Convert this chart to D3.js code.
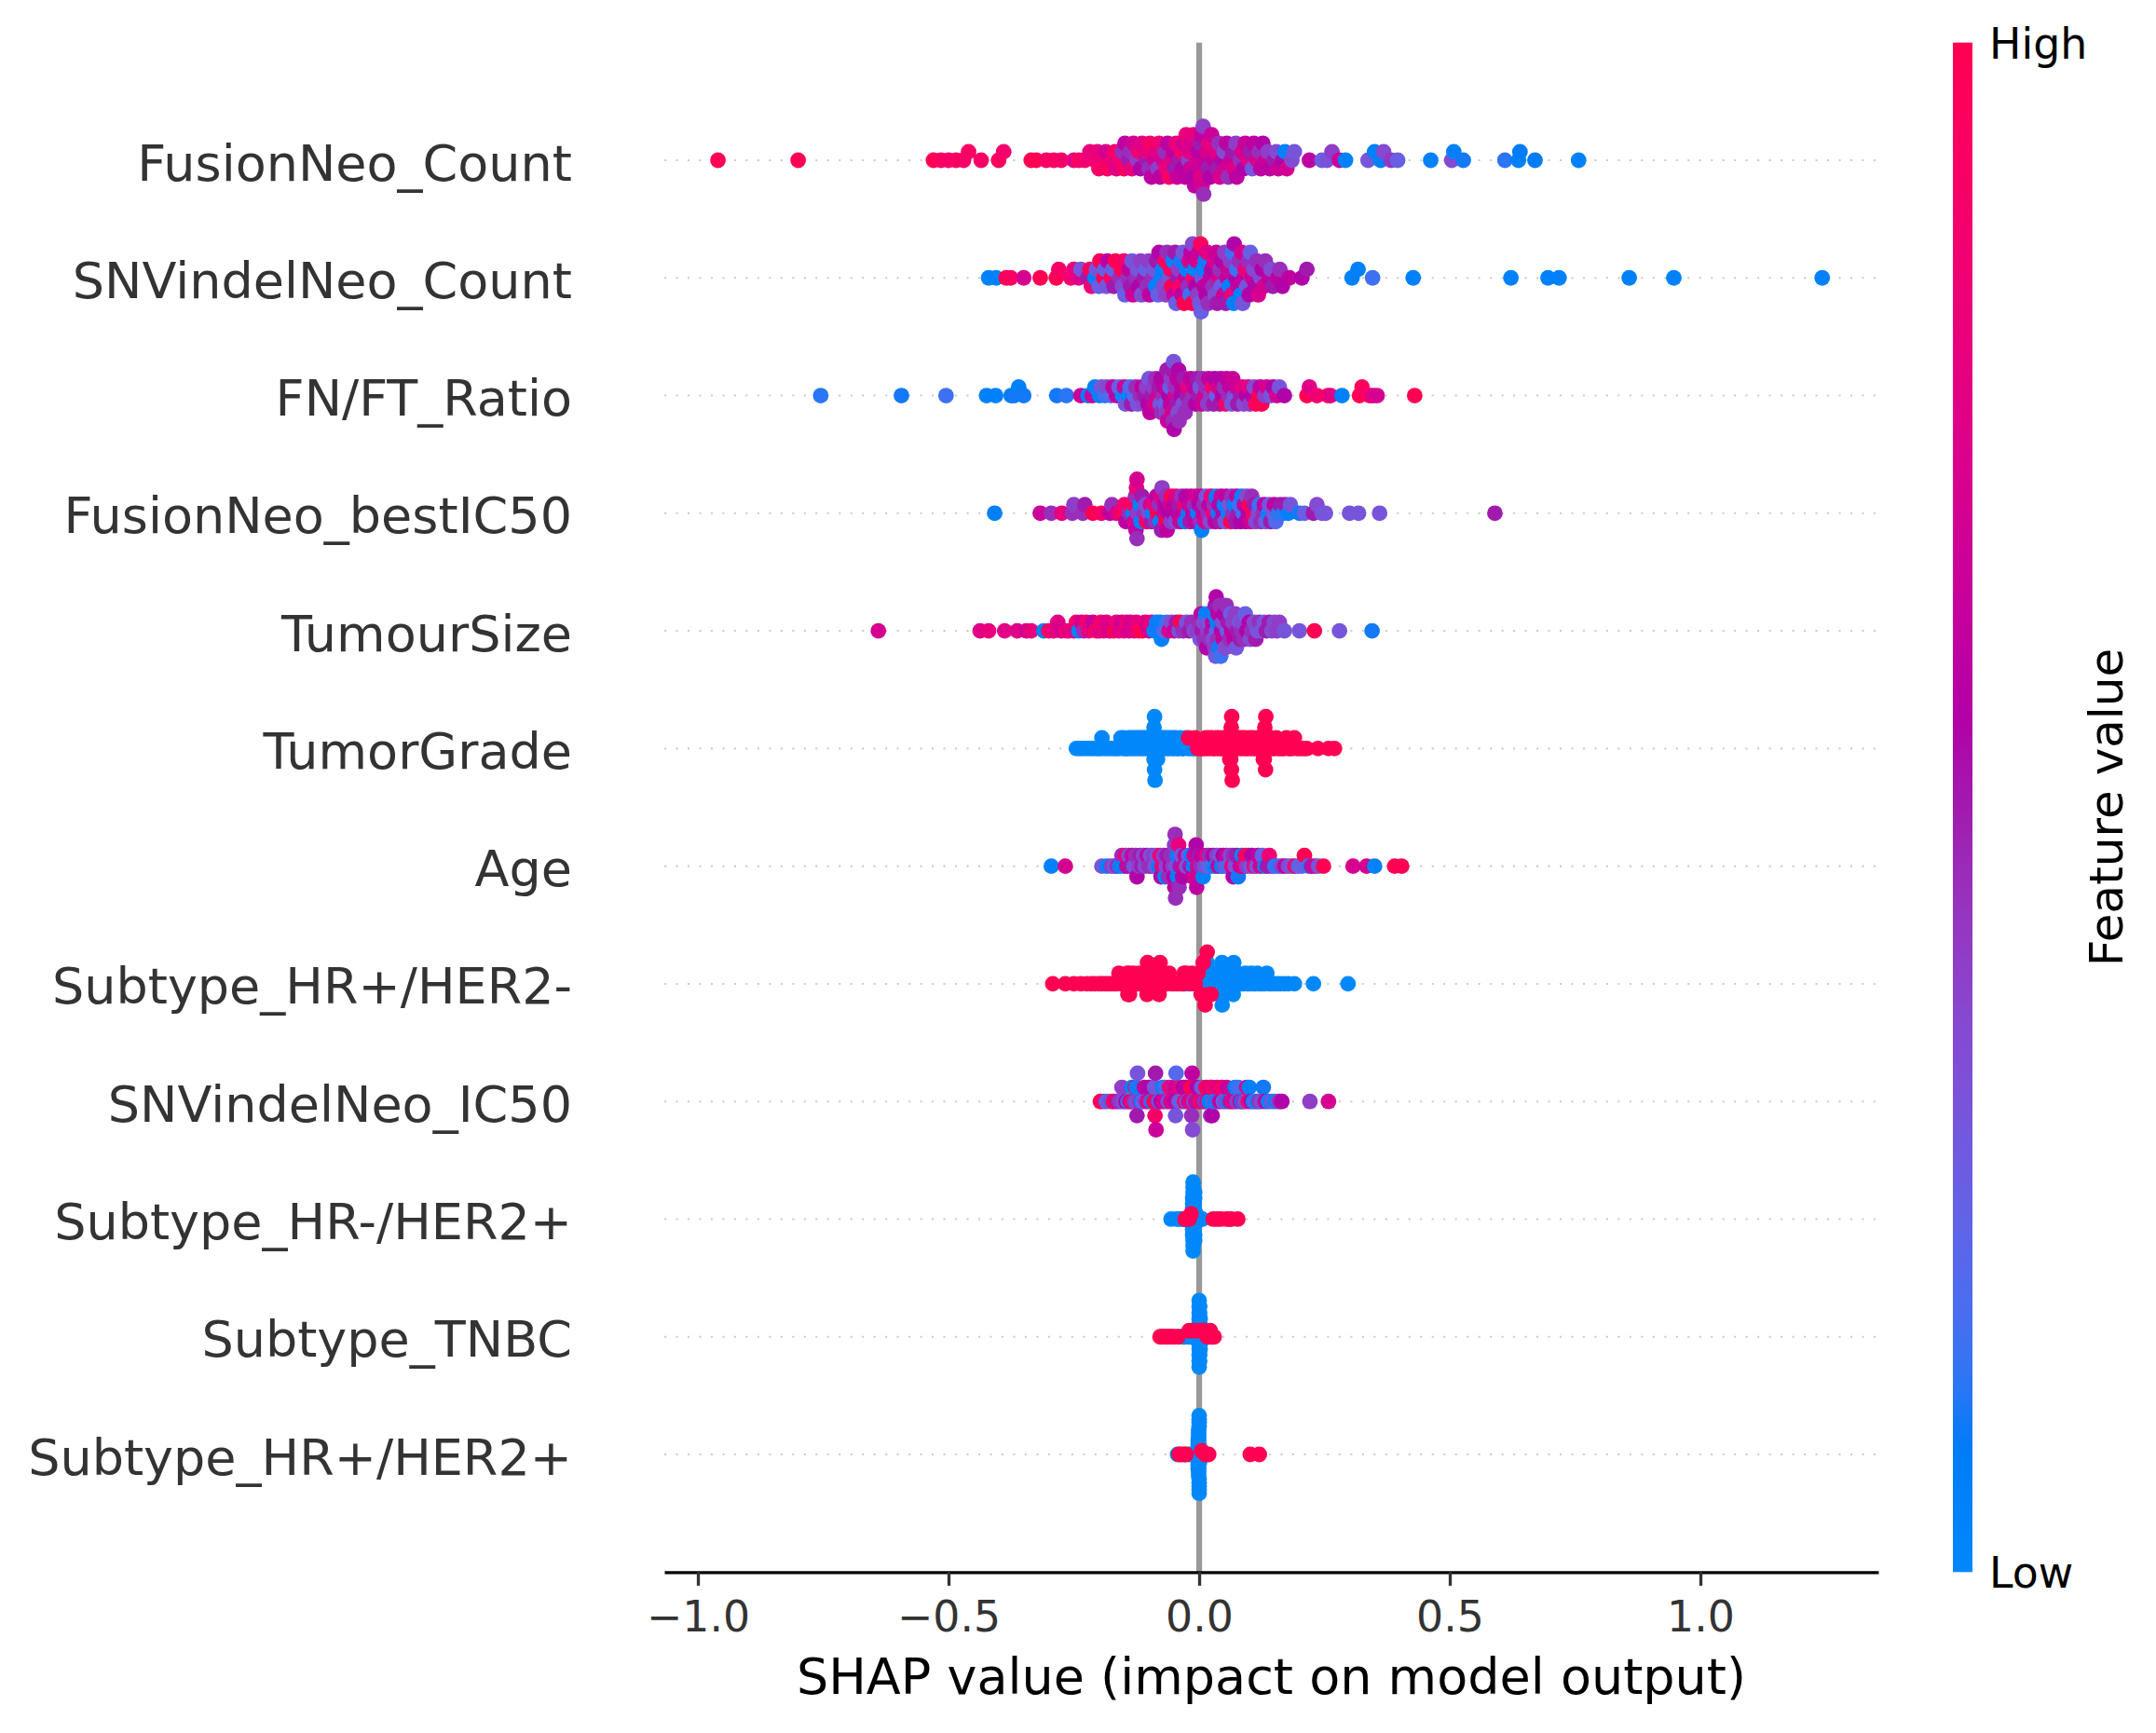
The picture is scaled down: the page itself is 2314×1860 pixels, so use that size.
<!DOCTYPE html>
<html>
<head>
<meta charset="utf-8">
<script src="https://cdn.jsdelivr.net/npm/d3@7"></script>
<style>
  body { margin: 0; background: #fff; }
  text { font-family: "DejaVu Sans", sans-serif; }
</style>
</head>
<body>
<script>
// feature names, top row first
const features = ["FusionNeo_Count", "SNVindelNeo_Count", "FN/FT_Ratio", "FusionNeo_bestIC50",
  "TumourSize", "TumorGrade", "Age", "Subtype_HR+/HER2-", "SNVindelNeo_IC50",
  "Subtype_HR-/HER2+", "Subtype_TNBC", "Subtype_HR+/HER2+"];

const xTicks = [-1.0, -0.5, 0.0, 0.5, 1.0];
const colorTicks = ["Low", "High"];

// [shap value, normalised feature value]
const fusionNeoCount = [[-0.96,1],[-0.80,1],[-0.53,1],[-0.515,0.95],[-0.50,0.9],[-0.485,0.95],[-0.47,0.9],[-0.46,0.92],[-0.435,0.9],[-0.40,0.95],[-0.39,0.88],[-0.335,1],[-0.325,1],[-0.305,0.9],[-0.29,0.95],[-0.275,0.9],[-0.25,0.75],[-0.24,0.95],[-0.228,0.85],[-0.218,0.8],
  [-0.208,0.85],[-0.203,0.8],[-0.2,0.9],[-0.19,0.85],[-0.186,0.7],[-0.183,0.95],[-0.173,0.8],[-0.168,0.9],[-0.165,0.75],[-0.157,0.85],[-0.153,0.45],[-0.15,0.9],[-0.148,0.6],
  [-0.14,0.5],[-0.137,0.45],[-0.134,0.8],[-0.131,0.7],[-0.123,0.4],[-0.12,0.85],[-0.117,0.55],[-0.114,0.75],[-0.105,0.5],[-0.102,0.8],[-0.1,0.45],[-0.098,0.9],[-0.095,0.6],
  [-0.088,0.65],[-0.085,0.75],[-0.083,0.4],[-0.08,0.85],[-0.078,0.6],[-0.071,0.7],[-0.068,0.45],[-0.066,0.8],[-0.063,0.6],[-0.06,0.9],[-0.054,0.75],[-0.051,0.6],[-0.049,0.5],[-0.046,0.8],[-0.044,0.65],
  [-0.038,0.5],[-0.035,0.85],[-0.033,0.55],[-0.031,0.7],[-0.028,0.6],[-0.026,0.8],[-0.021,0.4],[-0.019,0.75],[-0.017,0.65],[-0.015,0.7],[-0.013,0.55],[-0.011,0.8],[-0.009,0.6],
  [-0.004,0.7],[-0.002,0.6],[0,0.65],[0.002,0.5],[0.003,0.75],[0.005,0.6],[0.006,0.7],[0.008,0.4],[0.009,0.45],
  [0.013,0.6],[0.016,0.7],[0.018,0.5],[0.02,0.8],[0.022,0.55],[0.025,0.65],[0.03,0.6],[0.033,0.75],[0.036,0.5],[0.039,0.45],[0.041,0.7],
  [0.047,0.55],[0.05,0.35],[0.053,0.7],[0.055,0.6],[0.058,0.45],[0.064,0.65],[0.067,0.5],[0.07,0.75],[0.073,0.4],[0.075,0.6],
  [0.082,0.45],[0.086,0.7],[0.089,0.55],[0.092,0.65],[0.099,0.75],[0.102,0.5],[0.106,0.3],[0.109,0.6],[0.116,0.7],[0.12,0.45],[0.123,0.6],[0.127,0.55],
  [0.133,0.65],[0.137,0.4],[0.141,0.6],[0.15,0.5],[0.154,0.35],[0.158,0.65],[0.167,0.55],[0.171,0.05],[0.175,0.7],[0.185,0.35],[0.19,0.3],
  [0.22,0.6],[0.245,0.25],[0.255,0.3],[0.265,0.4],[0.28,0.65],[0.292,0.05],[0.337,0.3],[0.35,0.05],[0.362,0.05],[0.368,0.35],[0.383,0.42],[0.396,0.25],
  [0.462,0.05],[0.504,0.35],[0.508,0.05],[0.527,0.1],[0.61,0.12],[0.637,0.05],[0.64,0.08],[0.67,0.08],[0.757,0.05]];

const snvIndelNeoCount = [[-0.42,0.05],[-0.405,0.05],[-0.385,1],[-0.376,0.95],[-0.35,0.7],[-0.317,1],[-0.285,1],[-0.28,0.9],
  [-0.256,0.85],[-0.25,0.8],[-0.24,0.75],[-0.236,0.3],[-0.222,0.5],[-0.218,0.95],[-0.215,0.85],
  [-0.208,0.05],[-0.205,0.3],[-0.2,0.25],[-0.198,1],[-0.19,1],[-0.188,0.25],[-0.185,0.3],[-0.183,0.6],
  [-0.175,0.95],[-0.172,0.25],[-0.17,0.5],[-0.167,1],[-0.158,0.45],[-0.155,1],[-0.153,0.35],[-0.15,0.9],[-0.148,0.25],
  [-0.142,0.45],[-0.14,0.6],[-0.137,0.5],[-0.134,0.3],[-0.132,0.65],[-0.126,0.45],[-0.123,0.3],[-0.12,0.55],[-0.117,0.4],[-0.115,0.35],
  [-0.109,0.5],[-0.106,0.25],[-0.104,0.45],[-0.101,0.4],[-0.099,0.6],[-0.092,0.45],[-0.09,0.3],[-0.087,0.05],[-0.085,0.5],[-0.082,0.25],[-0.08,0.55],
  [-0.076,0.1],[-0.073,0.05],[-0.071,0.35],[-0.068,0.95],[-0.066,0.4],[-0.064,0.45],
  [-0.059,0.3],[-0.057,0.95],[-0.055,1],[-0.052,0.05],[-0.05,0.65],[-0.048,0.5],[-0.046,0.25],
  [-0.043,0.5],[-0.041,0.4],[-0.039,0.9],[-0.036,0.1],[-0.034,0.6],[-0.032,0.3],[-0.03,1],
  [-0.027,0.65],[-0.025,0.05],[-0.022,0.45],[-0.02,0.7],[-0.018,0.15],[-0.016,0.6],[-0.014,1],[-0.013,0.35],
  [-0.011,0.9],[-0.009,0.05],[-0.007,0.55],[-0.005,0.7],[-0.003,0.4],[-0.001,0.65],[0.001,0.3],[0.003,0.95],[0.004,0.25],
  [0.006,0.3],[0.008,0.05],[0.01,0.6],[0.012,0.1],[0.014,0.55],[0.016,0.75],[0.018,0.45],
  [0.022,0.6],[0.025,0.55],[0.027,0.45],[0.03,0.7],[0.032,0.35],[0.034,0.65],[0.036,0.5],
  [0.039,0.7],[0.041,0.45],[0.044,0.25],[0.046,0.55],[0.049,0.65],[0.051,0.4],[0.053,0.5],
  [0.056,0.6],[0.058,0.65],[0.06,0.05],[0.062,0.4],[0.065,0.8],[0.067,0.15],[0.069,0.05],[0.07,0.55],
  [0.073,0.55],[0.075,0.15],[0.077,0.6],[0.08,0.45],[0.083,0.05],[0.085,0.7],[0.087,0.3],
  [0.09,0.6],[0.092,0.8],[0.095,0.3],[0.098,0.45],[0.1,0.55],[0.102,0.25],
  [0.106,0.65],[0.109,0.35],[0.112,0.55],[0.115,0.45],[0.118,0.7],[0.123,0.35],[0.126,0.55],[0.129,0.7],[0.132,0.45],
  [0.14,0.6],[0.143,0.35],[0.147,0.5],[0.157,0.6],[0.161,0.45],[0.166,0.55],
  [0.18,0.6],[0.205,0.55],[0.215,0.5],[0.305,0.05],[0.317,0.05],[0.346,0.15],[0.427,0.05],[0.622,0.05],[0.696,0.05],[0.718,0.05],[0.858,0.05],[0.947,0.05],[1.243,0.05]];

const fnFtRatio = [[-0.755,0.12],[-0.594,0.1],[-0.505,0.15],[-0.424,0.05],[-0.406,0.05],[-0.375,0.08],[-0.369,0.1],[-0.36,0.05],[-0.35,0.1],[-0.284,0.1],[-0.265,0.12],
  [-0.236,0.65],[-0.222,0.1],[-0.213,0.65],[-0.208,0.05],[-0.199,0.05],[-0.195,0.3],[-0.188,0.15],[-0.184,0.35],[-0.176,0.2],[-0.172,0.6],[-0.165,0.6],[-0.16,0.25],
  [-0.153,0.0],[-0.149,0.65],[-0.147,0.3],[-0.141,0.05],[-0.138,0.2],[-0.135,0.5],[-0.129,0.2],[-0.126,0.45],[-0.123,0.3],
  [-0.117,0.45],[-0.114,0.6],[-0.111,0.35],[-0.109,0.5],[-0.105,0.4],[-0.102,0.55],[-0.1,0.3],[-0.098,0.6],
  [-0.094,0.5],[-0.091,0.4],[-0.089,0.7],[-0.087,0.45],[-0.082,0.7],[-0.08,0.5],[-0.078,0.3],[-0.076,0.55],[-0.075,0.45],
  [-0.071,0.45],[-0.07,0.6],[-0.068,0.25],[-0.066,0.55],[-0.065,0.4],[-0.064,0.5],[-0.063,0.65],
  [-0.06,0.55],[-0.058,0.25],[-0.057,0.6],[-0.056,0.4],[-0.054,0.7],[-0.053,0.5],[-0.052,0.45],[-0.051,0.3],[-0.05,0.55],
  [-0.048,0.7],[-0.047,0.45],[-0.045,0.5],[-0.044,0.6],[-0.042,0.35],[-0.041,0.55],[-0.04,0.45],
  [-0.036,0.55],[-0.034,0.6],[-0.032,0.35],[-0.03,0.5],[-0.028,0.45],[-0.024,0.5],[-0.022,0.8],[-0.02,0.45],[-0.017,0.6],
  [-0.012,0.45],[-0.01,0.6],[-0.007,0.55],[-0.004,0.5],[0.0,0.5],[0.002,0.3],[0.005,0.65],[0.007,0.45],
  [0.011,0.7],[0.014,0.45],[0.017,0.4],[0.019,0.6],[0.023,0.4],[0.026,0.85],[0.029,0.5],[0.031,0.55],
  [0.035,0.25],[0.038,0.7],[0.041,0.5],[0.043,0.55],[0.047,0.55],[0.05,0.45],[0.053,0.9],[0.055,0.6],
  [0.059,0.45],[0.062,0.6],[0.065,0.3],[0.067,0.65],[0.071,0.3],[0.074,0.65],[0.077,0.5],[0.083,0.5],[0.086,0.75],[0.089,0.35],
  [0.095,0.55],[0.098,0.75],[0.101,0.4],[0.107,0.55],[0.11,0.35],[0.113,0.95],[0.119,1],[0.122,0.6],[0.125,1],
  [0.131,0.4],[0.135,0.7],[0.143,0.3],[0.148,0.55],[0.155,0.7],[0.16,0.3],[0.17,0.55],
  [0.215,1],[0.22,0.75],[0.235,0.85],[0.257,1],[0.262,0.75],[0.285,0.05],[0.32,1],[0.325,0.95],[0.34,0.9],[0.347,0.75],[0.355,0.7],[0.43,1]];

const fusionNeoBestIC50 = [[-0.408,0.05],[-0.317,0.65],[-0.295,0.45],[-0.274,0.8],[-0.253,0.45],[-0.25,0.4],[-0.232,0.45],[-0.228,0.5],[-0.212,1],[-0.195,0.9],[-0.178,0.6],[-0.174,0.45],[-0.165,0.7],[-0.158,0.8],
  [-0.151,1],[-0.149,0.85],[-0.146,0.6],[-0.14,0.45],[-0.138,0.9],
  [-0.132,0.05],[-0.13,0.95],[-0.129,0.7],[-0.127,0.45],[-0.126,0.6],[-0.125,0.8],[-0.124,0.45],[-0.124,0.7],[-0.123,0.4],
  [-0.118,0.05],[-0.116,0.05],[-0.114,0.5],[-0.11,0.45],[-0.107,0.35],[-0.105,0.9],[-0.1,0.35],[-0.097,0.7],[-0.095,0.5],[-0.093,0.05],
  [-0.09,0.8],[-0.087,0.45],[-0.085,0.6],[-0.083,1],[-0.08,0.45],[-0.078,0.05],[-0.077,0.7],[-0.075,0.5],[-0.074,0.4],
  [-0.07,0.65],[-0.068,0.55],[-0.066,1],[-0.065,0.45],[-0.064,0.6],[-0.06,0.55],[-0.058,0.7],[-0.056,0.4],[-0.055,1],
  [-0.052,0.55],[-0.05,0.6],[-0.048,0.35],[-0.046,0.75],[-0.042,0.6],[-0.04,0.5],[-0.038,0.65],[-0.035,0.45],
  [-0.032,0.6],[-0.03,0.8],[-0.028,0.1],[-0.026,0.55],[-0.022,0.1],[-0.02,0.65],[-0.018,0.5],[-0.016,0.6],
  [-0.012,0.6],[-0.01,0.45],[-0.008,0.6],[-0.006,0.7],[-0.003,0.05],[0,0.55],[0.002,0.45],[0.004,0.6],[0.005,0.05],
  [0.008,0.6],[0.01,0.45],[0.012,0.7],[0.014,0.3],[0.018,0.45],[0.02,0.6],[0.022,0.35],[0.024,0.8],
  [0.028,0.8],[0.03,0.45],[0.032,0.6],[0.034,0.1],[0.038,0.1],[0.04,0.55],[0.042,0.5],[0.044,0.65],
  [0.048,0.55],[0.05,0.05],[0.052,0.3],[0.054,0.6],[0.058,0.05],[0.06,0.3],[0.063,1],[0.065,0.45],
  [0.068,0.45],[0.07,0.05],[0.073,0.5],[0.075,0.6],[0.078,0.5],[0.08,0.15],[0.083,0.55],[0.085,0.05],
  [0.088,0.15],[0.09,0.6],[0.093,0.55],[0.095,0.35],[0.098,0.55],[0.1,1],[0.103,0.7],[0.105,0.45],
  [0.108,0.95],[0.11,0.5],[0.113,0.35],[0.118,0.35],[0.12,0.15],[0.123,0.45],[0.128,0.45],[0.13,0.6],[0.133,0.25],
  [0.138,0.05],[0.14,0.3],[0.143,0.5],[0.148,0.3],[0.15,0.6],[0.153,0.2],[0.158,0.12],[0.162,0.5],[0.168,0.12],[0.172,0.5],[0.178,0.05],[0.182,0.3],
  [0.2,0.1],[0.21,0.25],[0.228,0.5],[0.235,0.35],[0.245,0.3],[0.252,0.3],[0.3,0.3],[0.318,0.3],[0.36,0.3],[0.59,0.5]];

const tumourSize = [[-0.64,0.7],[-0.437,0.75],[-0.42,0.8],[-0.388,0.75],[-0.363,0.75],[-0.345,0.7],[-0.335,0.8],[-0.31,0.05],[-0.3,0.9],[-0.29,0.8],[-0.282,0.75],[-0.275,0.7],[-0.265,0.85],[-0.26,0.8],
  [-0.25,0.75],[-0.245,0.9],[-0.24,0.05],[-0.235,0.7],[-0.23,0.45],[-0.225,0.85],[-0.22,0.8],[-0.212,0.65],[-0.205,1],[-0.2,0.75],[-0.196,0.9],[-0.19,0.8],[-0.185,0.75],[-0.178,0.7],
  [-0.17,1],[-0.165,0.85],[-0.16,0.75],[-0.154,0.65],[-0.15,0.8],[-0.145,0.85],[-0.14,0.7],[-0.137,0.7],[-0.13,0.75],[-0.125,0.8],[-0.12,0.9],[-0.113,1],[-0.108,0.75],[-0.1,0.7],[-0.095,0.8],
  [-0.09,0.05],[-0.085,0.1],[-0.082,0.1],[-0.078,0.05],[-0.075,0.05],[-0.07,0.2],[-0.065,0.15],[-0.06,0.7],[-0.055,0.35],[-0.05,0.65],[-0.045,0.5],[-0.04,0.3],[-0.037,1],[-0.032,0.45],
  [-0.025,0.3],[-0.02,0.5],[-0.015,0.45],[-0.01,0.35],[-0.004,0.4],
  [0.0,0.45],[0.002,0.3],[0.004,0.6],[0.006,0.5],[0.009,0.35],[0.011,0.45],[0.013,0.05],[0.015,0.55],[0.017,0.4],
  [0.019,0.3],[0.021,0.45],[0.023,0.1],[0.025,0.5],[0.027,0.6],[0.028,0.35],
  [0.029,0.05],[0.031,0.4],[0.032,0.5],[0.033,0.3],[0.034,0.55],[0.035,0.25],[0.036,0.05],[0.037,0.45],[0.038,0.6],[0.039,0.1],
  [0.041,0.45],[0.043,0.15],[0.045,0.55],[0.047,0.35],[0.048,0.6],[0.05,0.55],[0.052,0.35],[0.054,0.45],[0.056,0.25],[0.058,0.5],
  [0.061,0.45],[0.063,0.25],[0.065,0.6],[0.067,0.4],[0.07,0.6],[0.072,0.4],[0.074,0.3],[0.076,0.5],[0.08,0.3],[0.082,0.5],[0.084,0.45],[0.086,0.35],
  [0.09,0.45],[0.092,0.25],[0.095,0.55],[0.1,0.55],[0.102,0.35],[0.105,0.45],[0.11,0.35],[0.113,0.5],[0.116,0.3],[0.12,0.45],[0.124,0.3],
  [0.13,0.3],[0.134,0.5],[0.14,0.5],[0.145,0.35],[0.15,0.35],[0.155,0.4],[0.16,0.4],[0.17,0.3],[0.2,0.3],[0.23,1],[0.28,0.3],[0.345,0.1]];

// binary features: shap values of the samples with low (0) and high (1) value
const tumorGradeLow = [-0.245,-0.238,-0.232,-0.225,-0.218,-0.212,-0.205,-0.2,-0.195,-0.194,-0.188,-0.182,-0.176,-0.17,-0.165,-0.16,-0.156,-0.152,-0.15,-0.147,-0.144,-0.141,-0.139,-0.136,-0.133,-0.13,-0.128,-0.125,-0.122,-0.12,-0.117,-0.115,-0.112,-0.11,-0.107,-0.105,-0.102,-0.1,-0.097,-0.095,-0.093,-0.091,-0.09,-0.09,-0.089,-0.089,-0.088,-0.087,-0.085,-0.083,-0.08,-0.078,-0.076,-0.074,-0.071,-0.069,-0.066,-0.064,-0.061,-0.058,-0.055,-0.052,-0.05,-0.047,-0.044,-0.041,-0.038,-0.035,-0.031,-0.027,-0.022,-0.017,-0.012,-0.008];
const tumorGradeHigh = [-0.021,-0.008,-0.003,0.002,0.006,0.01,0.013,0.016,0.019,0.022,0.025,0.028,0.031,0.034,0.037,0.04,0.043,0.046,0.049,0.052,0.055,0.057,0.059,0.061,0.062,0.063,0.063,0.064,0.0645,0.065,0.066,0.068,0.071,0.074,0.077,0.08,0.083,0.086,0.089,0.092,0.095,0.098,0.101,0.104,0.107,0.11,0.113,0.116,0.119,0.122,0.125,0.127,0.128,0.129,0.1295,0.13,0.131,0.1325,0.133,0.136,0.139,0.142,0.146,0.15,0.154,0.158,0.162,0.166,0.17,0.174,0.178,0.182,0.186,0.19,0.195,0.2,0.205,0.21,0.215,0.237,0.258,0.27];

const age = [[-0.295,0.05],[-0.267,0.7],[-0.194,0.3],[-0.184,0.05],[-0.175,0.4],[-0.168,0.25],[-0.164,0.45],[-0.158,0.05],[-0.154,0.45],[-0.15,0.05],[-0.147,0.8],[-0.144,0.65],[-0.14,0.3],[-0.137,0.5],[-0.134,0.65],[-0.13,0.3],
  [-0.127,0.45],[-0.124,0.55],[-0.12,0.4],[-0.117,0.5],[-0.114,0.5],[-0.111,0.35],[-0.108,0.35],[-0.104,0.6],[-0.1,0.45],[-0.097,0.3],[-0.094,0.45],[-0.091,0.4],[-0.088,0.3],[-0.084,0.3],[-0.081,0.1],
  [-0.078,0.85],[-0.076,0.55],[-0.074,0.8],[-0.071,0.4],[-0.068,0.05],[-0.066,0.35],[-0.064,0.5],[-0.061,0.45],[-0.058,0.6],[-0.056,0.45],[-0.054,0.45],[-0.052,0.4],[-0.051,0.45],[-0.05,0.55],[-0.049,0.4],[-0.0485,0.6],[-0.048,0.45],[-0.047,0.45],
  [-0.046,0.3],[-0.044,0.1],[-0.043,0.05],[-0.041,0.8],[-0.04,0.45],[-0.038,0.5],[-0.035,0.3],[-0.033,0.55],[-0.03,0.7],[-0.028,0.6],[-0.025,0.3],[-0.021,0.25],[-0.018,0.5],[-0.015,0.05],[-0.013,0.6],[-0.011,0.05],
  [-0.01,0.65],[-0.008,0.7],[-0.006,0.55],[-0.005,0.6],[-0.003,0.7],[0,0.5],[0.003,0.45],[0.005,0.6],[0.008,0.05],[0.011,0.35],[0.015,0.8],[0.018,0.25],[0.02,0.45],[0.025,0.15],[0.028,0.55],[0.032,0.05],
  [0.035,0.4],[0.038,0.6],[0.042,0.3],[0.045,0.1],[0.048,0.55],[0.052,0.3],[0.055,0.65],[0.058,0.15],[0.062,0.35],[0.065,0.8],[0.068,0.45],[0.068,0.55],[0.072,0.3],[0.075,0.5],[0.078,0.1],[0.082,0.6],
  [0.085,0.05],[0.088,0.75],[0.092,0.9],[0.095,0.4],[0.098,0.95],[0.102,0.3],[0.105,0.55],[0.11,0.8],[0.115,0.3],[0.118,0.6],[0.122,0.7],[0.126,0.25],[0.131,0.05],[0.136,0.5],[0.14,0.85],[0.145,0.5],
  [0.151,0.15],[0.158,0.12],[0.165,0.4],[0.171,0.6],[0.178,0.35],[0.185,0.3],[0.191,0.9],[0.198,0.2],[0.205,0.25],[0.21,1],[0.218,0.15],[0.224,0.5],[0.231,0.7],[0.238,0.3],[0.248,1],
  [0.307,0.7],[0.334,0.7],[0.35,0.05],[0.39,1],[0.404,1]];

const hrPosHer2NegLow = [-0.028,-0.015,-0.005,0.0,0.004,0.007,0.01,0.011,0.012,0.013,0.014,0.016,0.019,0.022,0.025,0.028,0.031,0.034,0.037,0.04,0.043,0.044,0.045,0.0455,0.046,0.047,0.0475,0.05,0.053,0.056,0.059,0.062,0.065,0.067,0.068,0.069,0.072,0.076,0.08,0.084,0.088,0.092,0.096,0.1,0.104,0.108,0.112,0.116,0.12,0.125,0.13,0.135,0.14,0.145,0.15,0.156,0.162,0.17,0.178,0.19,0.228,0.297];
const hrPosHer2NegHigh = [-0.292,-0.267,-0.25,-0.236,-0.224,-0.215,-0.208,-0.2,-0.194,-0.188,-0.182,-0.176,-0.17,-0.165,-0.16,-0.155,-0.151,-0.147,-0.143,-0.142,-0.141,-0.14,-0.139,-0.135,-0.131,-0.127,-0.123,-0.119,-0.115,-0.111,-0.108,-0.106,-0.105,-0.104,-0.103,-0.1,-0.096,-0.092,-0.088,-0.083,-0.082,-0.081,-0.08,-0.078,-0.074,-0.07,-0.065,-0.06,-0.055,-0.05,-0.045,-0.04,-0.035,-0.03,-0.025,-0.02,-0.014,-0.008,-0.002,0.004,0.008,0.012,0.016,0.02,0.024];

const snvIndelNeoIC50 = [[-0.197,1],[-0.19,0.9],[-0.185,0.2],[-0.178,0.35],[-0.173,0.12],[-0.171,1],[-0.165,0.7],[-0.16,0.45],[-0.156,0.4],[-0.154,0.4],[-0.15,0.3],[-0.146,0.55],[-0.142,0.15],[-0.138,0.6],[-0.135,0.95],[-0.134,0.05],[-0.13,0.45],
  [-0.127,1],[-0.126,0.35],[-0.125,0.1],[-0.124,0.5],[-0.123,0.3],
  [-0.118,0.45],[-0.115,0.05],[-0.112,0.25],[-0.109,0.6],[-0.106,0.4],[-0.103,0.7],[-0.1,0.55],[-0.097,0.4],[-0.094,0.1],
  [-0.09,1],[-0.089,0.3],[-0.088,0.9],[-0.087,0.5],[-0.086,0.65],
  [-0.082,0.45],[-0.079,0.2],[-0.076,0.55],[-0.073,0.1],[-0.07,0.75],[-0.068,0.15],[-0.065,0.65],[-0.062,0.35],[-0.059,0.85],[-0.056,0.6],[-0.053,0.8],
  [-0.05,0.45],[-0.049,0.6],[-0.048,0.7],[-0.047,0.3],[-0.046,0.2],
  [-0.042,0.5],[-0.04,0.3],[-0.037,0.8],[-0.035,0.2],[-0.032,0.55],[-0.029,0.9],[-0.027,0.6],[-0.024,0.25],[-0.021,0.65],
  [-0.017,0.75],[-0.016,1],[-0.015,0.45],[-0.014,0.6],[-0.013,0.35],
  [-0.01,0.3],[-0.007,0.65],[-0.004,0.55],[-0.001,0.5],[0.002,0.95],[0.005,0.3],[0.008,0.7],[0.011,0.45],[0.014,1],[0.017,0.8],[0.02,0.05],
  [0.022,0.6],[0.023,0.45],[0.024,0.05],[0.025,0.9],[0.026,0.55],
  [0.03,0.3],[0.033,0.05],[0.036,0.75],[0.039,0.4],[0.042,0.6],[0.045,0.9],[0.048,0.2],[0.052,0.35],[0.055,0.65],[0.058,0.1],[0.062,0.5],[0.066,0.85],
  [0.07,0.7],[0.072,0.05],[0.075,0.4],[0.078,0.15],[0.082,0.6],[0.085,0.05],[0.088,0.45],[0.092,0.3],[0.095,0.75],[0.098,0.85],[0.1,0.05],[0.104,0.55],
  [0.108,0.1],[0.112,0.25],[0.116,0.05],[0.12,0.45],[0.124,0.35],[0.128,0.1],[0.132,0.6],[0.138,0.05],[0.145,0.3],[0.151,0.05],[0.158,0.35],[0.161,0.45],[0.165,0.55],[0.221,0.4],[0.258,0.7]];

const hrNegHer2PosLow = [-0.056,-0.045,-0.04,-0.034,-0.03,-0.026,-0.022,-0.019,-0.017,-0.016,-0.015,-0.015,-0.014,-0.014,-0.014,-0.013,-0.013,-0.013,-0.013,-0.013,
  -0.012,-0.012,-0.012,-0.012,-0.012,-0.012,-0.012,-0.012,-0.012,-0.012,-0.012,-0.012,-0.012,-0.012,
  -0.011,-0.011,-0.011,-0.011,-0.011,-0.011,-0.011,-0.011,-0.011,-0.011,-0.010,-0.010,-0.010,-0.010,-0.010,-0.010,
  -0.009,-0.009,-0.009,-0.009,-0.008,-0.008,-0.008,-0.006,-0.006,-0.004,-0.002,0.0,0.003,0.006];
const hrNegHer2PosHigh = [-0.028,-0.02,-0.016,0.028,0.036,0.043,0.055,0.06,0.064,0.077];

const tnbcLow = [-0.04,-0.034,-0.031,-0.028,-0.022,-0.02,-0.016,-0.012,-0.008,-0.005,-0.003,-0.002,-0.002,-0.001,-0.001,-0.001,-0.001,
  0,0,0,0,0,0,0,0,0,0,0,0,0.001,0.001,0.001,0.001,0.001,0.001,0.001,0.001,0.001,0.001,
  0.002,0.002,0.002,0.002,0.002,0.002,0.003,0.003,0.003,0.004,0.006,0.01,0.015,0.02,0.022,0.024,0.026];
const tnbcHigh = [-0.078,-0.075,-0.071,-0.066,-0.062,-0.058,-0.054,-0.05,-0.042,-0.02,-0.012,-0.004,0.004,0.009,0.016,0.022,0.027,0.03];

const hrPosHer2PosLow = [-0.043,-0.02,-0.012,-0.008,-0.005,-0.004,-0.004,-0.003,-0.003,-0.003,-0.002,-0.002,-0.002,-0.002,-0.002,-0.002,
  -0.001,-0.001,-0.001,-0.001,-0.001,-0.001,-0.001,-0.001,-0.001,-0.001,-0.001,-0.001,-0.001,-0.001,
  0,0,0,0,0,0,0,0,0,0.001,0.001,0.001,0.001,0.001,0.002,0.002,0.003,0.005,0.009,0.015];
const hrPosHer2PosHigh = [-0.04,-0.036,-0.03,-0.026,0.005,0.012,0.019,0.102,0.12];

const binary = (low, high) => low.map(v => [v, 0]).concat(high.map(v => [v, 1]));

// rows listed top to bottom, same order as features
const rows = [fusionNeoCount, snvIndelNeoCount, fnFtRatio, fusionNeoBestIC50, tumourSize,
  binary(tumorGradeLow, tumorGradeHigh), age, binary(hrPosHer2NegLow, hrPosHer2NegHigh),
  snvIndelNeoIC50, binary(hrNegHer2PosLow, hrNegHer2PosHigh), binary(tnbcLow, tnbcHigh),
  binary(hrPosHer2PosLow, hrPosHer2PosHigh)];

const width = 2314, height = 1860;
const nRows = features.length;

const x = d3.scaleLinear().domain([-1.067, 1.355]).range([713, 2016]);
const y = d3.scaleLinear().domain([-1, nRows]).range([1687.3, 45.7]);

// shap red_blue map: LCh path, lightness dips to 40 in the middle
const redBlue = t => {
  t = Math.max(0, Math.min(1, t));
  const l = t < 0.5 ? 54 - 28 * t : 40 + 28 * (t - 0.5);
  return d3.hcl(266.9 + 113.4 * t, 70 + 20 * t, l).formatHex();
};

// same binning + layering the shap beeswarm does
function beeswarm(pts) {
  const xs = pts.map(d => d[0]);
  const lo = d3.min(xs), hi = d3.max(xs);
  const quant = xs.map(v => Math.round(100 * (v - lo) / (hi - lo + 1e-8)));
  const order = d3.range(xs.length).sort((a, b) => quant[a] - quant[b] || a - b);
  const ys = new Array(xs.length).fill(0);
  let layer = 0, last = -1;
  for (const i of order) {
    if (quant[i] !== last) layer = 0;
    ys[i] = Math.ceil(layer / 2) * ((layer % 2) * 2 - 1);
    layer++;
    last = quant[i];
  }
  const m = d3.max(ys, v => v + 1);
  return ys.map(v => v * 0.9 * (0.4 / m));
}

const svg = d3.select("body").append("svg")
  .attr("width", width)
  .attr("height", height);

svg.append("rect").attr("width", width).attr("height", height).attr("fill", "#fff");

// dotted row guides
svg.append("g")
  .selectAll("line")
  .data(d3.range(nRows))
  .join("line")
  .attr("x1", x.range()[0])
  .attr("x2", x.range()[1])
  .attr("y1", d => y(d))
  .attr("y2", d => y(d))
  .attr("stroke", "#cccccc")
  .attr("stroke-width", 2.08)
  .attr("stroke-dasharray", "2.08 10.4");

// zero line
svg.append("line")
  .attr("x1", x(0)).attr("x2", x(0))
  .attr("y1", y.range()[1]).attr("y2", y.range()[0])
  .attr("stroke", "#999999")
  .attr("stroke-width", 6.25);

// dots, bottom row drawn first
const dots = svg.append("g");
for (let k = nRows - 1; k >= 0; k--) {
  const pos = nRows - 1 - k;
  const pts = rows[k];
  const ys = beeswarm(pts);
  dots.append("g")
    .selectAll("circle")
    .data(pts)
    .join("circle")
    .attr("cx", d => x(d[0]))
    .attr("cy", (d, i) => y(pos + ys[i]))
    .attr("r", 8.4)
    .attr("fill", d => redBlue(d[1]));
}

// x axis
const xAxis = svg.append("g")
  .attr("transform", `translate(0,${y.range()[0]})`)
  .call(d3.axisBottom(x).tickValues(xTicks).tickFormat(d3.format(".1f"))
    .tickSize(14.6).tickSizeOuter(0).tickPadding(16.6));
xAxis.select(".domain").attr("stroke", "#000").attr("stroke-width", 3.33);
xAxis.selectAll(".tick line").attr("stroke", "#333333").attr("stroke-width", 3.33);
xAxis.selectAll(".tick text")
  .attr("fill", "#333333")
  .style("font-size", "45.8px")
  .style("font-family", "DejaVu Sans");

svg.append("text")
  .attr("x", (x.range()[0] + x.range()[1]) / 2)
  .attr("y", 1818)
  .attr("text-anchor", "middle")
  .attr("fill", "#000")
  .style("font-size", "54px")
  .text("SHAP value (impact on model output)");

// feature labels
const yAxis = svg.append("g")
  .attr("transform", `translate(${x.range()[0]},0)`)
  .call(d3.axisLeft(y).tickValues(d3.range(nRows))
    .tickFormat(p => features[nRows - 1 - p]).tickSize(0).tickPadding(99));
yAxis.select(".domain").remove();
yAxis.selectAll(".tick text")
  .attr("fill", "#333333")
  .attr("dy", "0.39em")
  .style("font-size", "54px")
  .style("font-family", "DejaVu Sans");

// colour bar
const cbX = 2096, cbW = 21;
const grad = svg.append("defs").append("linearGradient")
  .attr("id", "cb").attr("x1", 0).attr("x2", 0).attr("y1", 1).attr("y2", 0);
grad.selectAll("stop")
  .data(d3.range(0, 1.0001, 0.02))
  .join("stop")
  .attr("offset", d => d)
  .attr("stop-color", d => redBlue(d));

const cbScale = d3.scaleLinear().domain([0, 1]).range([y.range()[0], y.range()[1]]);
svg.append("rect")
  .attr("x", cbX).attr("width", cbW)
  .attr("y", cbScale(1)).attr("height", cbScale(0) - cbScale(1))
  .attr("fill", "url(#cb)");

svg.append("g")
  .selectAll("text")
  .data(colorTicks)
  .join("text")
  .attr("x", 2135)
  .attr("y", (d, i) => cbScale(i) + 17)
  .attr("fill", "#000")
  .style("font-size", "45.8px")
  .text(d => d);

svg.append("text")
  .attr("transform", `translate(2278,${(cbScale(0) + cbScale(1)) / 2}) rotate(-90)`)
  .attr("text-anchor", "middle")
  .attr("fill", "#000")
  .style("font-size", "50px")
  .text("Feature value");
</script>
</body>
</html>
